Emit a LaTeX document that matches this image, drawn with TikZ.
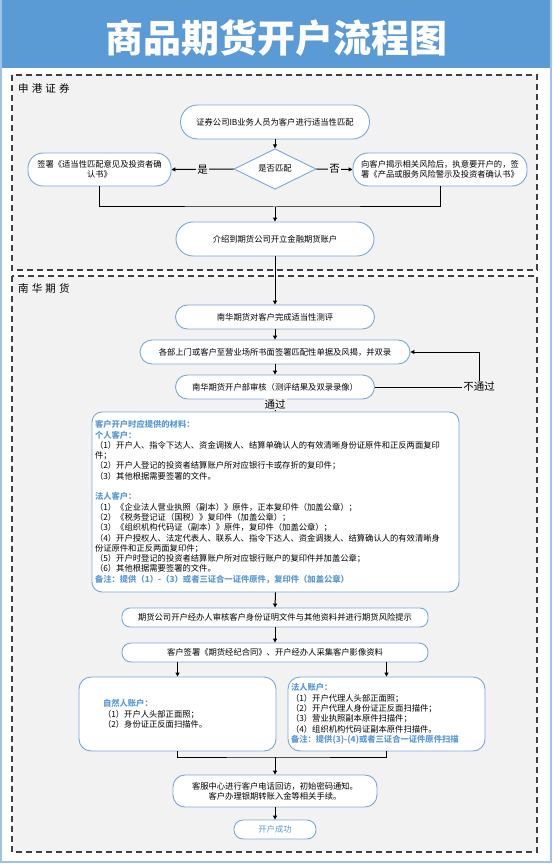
\documentclass[tikz,border=0pt]{standalone}
\usepackage{fontspec}
\setmainfont{Noto Sans CJK SC}
\usetikzlibrary{arrows.meta,shapes.geometric}
\definecolor{titleblue}{HTML}{5B9BD5}
\definecolor{frameblue}{HTML}{9DC3E6}
\definecolor{boxblue}{HTML}{7AA7DA}
\definecolor{secbg}{HTML}{F2F2F2}
\definecolor{dashgray}{HTML}{404040}
\definecolor{headblue}{HTML}{5B9BD5}
\begin{document}
\begin{tikzpicture}[x=1pt,y=-1pt,
  sec/.style={draw=dashgray, fill=secbg, line width=1.2pt, dash pattern=on 6pt off 4pt},
  pill/.style={draw=boxblue, fill=white, line width=0.9pt, rounded corners=#1,
    font=\fontsize{8.3}{10.3}\selectfont, align=center, inner sep=0pt},
  pill/.default=8pt,
  arr/.style={-{Triangle[length=4pt,width=4pt]}, line width=1pt, black},
  ln/.style={line width=1pt, black},
  lab/.style={font=\fontsize{10.5}{12}\selectfont, fill=secbg, inner sep=1pt},
  seclab/.style={font=\fontsize{10.5}{12}\selectfont\addfontfeatures{LetterSpace=30}, anchor=west, inner sep=0pt},
]
\useasboundingbox (0,0) rectangle (553,866);
\fill[white] (0,0) rectangle (553,866);
% title band and frame
\fill[titleblue] (2,0) rectangle (550,68);
\draw[frameblue, line width=2pt] (1,0) -- (1,862) -- (551,862) -- (551,0);
\node[text=white, inner sep=0pt, font=\fontsize{38}{40}\selectfont\bfseries] (title) at (276,38) {商品期货开户流程图};
% sections
\draw[sec] (12,75) rectangle (537,270);
\draw[sec] (12,276) rectangle (537,852);
\node[seclab] (s1) at (18,88) {申港证券};
\node[seclab] (s2) at (18,289) {南华期货};
% section 1 nodes
\node[pill=17pt, minimum width=189pt, minimum height=34pt] (b1) at (275,122) {证券公司IB业务人员为客户进行适当性匹配};
\node[diamond, draw=boxblue, fill=white, line width=0.9pt, minimum width=82pt, minimum height=34pt, inner sep=0pt, font=\fontsize{8.3}{10.3}\selectfont] (dia) at (275,169) {是否匹配};
\node[pill=15pt, minimum width=143pt, minimum height=33pt] (bL) at (99.5,169.5) {签署《适当性匹配意见及投资者确\\认书》};
\node[pill=15pt, minimum width=174pt, minimum height=33pt] (bR) at (440,169.5) {向客户揭示相关风险后，执意要开户的，签\\署《产品或服务风险警示及投资者确认书》};
\node[pill=17pt, minimum width=198pt, minimum height=34pt] (b4) at (275,239) {介绍到期货公司开立金融期货账户};
% section 2 nodes
\node[pill=12pt, minimum width=199pt, minimum height=24pt] (b5) at (275,317) {南华期货对客户完成适当性测评};
\node[pill=12pt, minimum width=270pt, minimum height=24pt] (b6) at (275,352) {各部上门或客户至营业场所书面签署匹配性单据及风揭，并双录};
\node[pill=12pt, minimum width=199pt, minimum height=24pt] (b7) at (275,387) {南华期货开户部审核（测评结果及双录录像）};
\node[pill=10pt, minimum width=367pt, minimum height=180pt, text width=361pt, inner xsep=3pt, align=left] (big) at (275.5,502) {%
{\color{headblue}\bfseries 客户开户时应提供的材料：}\\
{\color{headblue}\bfseries 个人客户：}\\
（1）开户人、指令下达人、资金调拨人、结算单确认人的有效清晰身份证原件和正反两面复印\\
件；\\
（2）开户人登记的投资者结算账户所对应银行卡或存折的复印件；\\
（3）其他根据需要签署的文件。\\[10.3pt]
{\color{headblue}\bfseries 法人客户：}\\
（1）《企业法人营业执照（副本）》原件，正本复印件（加盖公章）；\\
（2）《税务登记证（国税）》复印件（加盖公章）；\\
（3）《组织机构代码证（副本）》原件，复印件（加盖公章）；\\
（4）开户授权人、法定代表人、联系人、指令下达人、资金调拨人、结算确认人的有效清晰身\\
份证原件和正反两面复印件；\\
（5）开户时登记的投资者结算账户所对应银行账户的复印件并加盖公章；\\
（6）其他根据需要签署的文件。\\
{\color{headblue}\bfseries 备注：提供（1）-（3）或者三证合一证件原件，复印件（加盖公章）}};
\node[pill=8pt, minimum width=306pt, minimum height=19pt] (b8) at (275,617.5) {期货公司开户经办人审核客户身份证明文件与其他资料并进行期货风险提示};
\node[pill=9pt, minimum width=306pt, minimum height=19pt] (b9) at (275,652.5) {客户签署《期货经纪合同》、开户经办人采集客户影像资料};
\node[pill=12pt, minimum width=197pt, minimum height=74pt, text width=149pt, inner xsep=24pt, align=left] (lL) at (177.5,714) {%
{\color{headblue}\bfseries 自然人账户：}\\
（1）开户人头部正面照；\\
（2）身份证正反面扫描件。};
\node[pill=12pt, minimum width=197pt, minimum height=74pt, text width=191pt, inner xsep=3pt, align=left] (lR) at (386.5,714) {%
{\color{headblue}\bfseries 法人账户：}\\
（1）开户代理人头部正面照；\\
（2）开户代理人身份证正反面扫描件；\\
（3）营业执照副本原件扫描件；\\
（4）组织机构代码证副本原件扫描件。\\
{\color{headblue}\bfseries 备注：提供(3)-(4)或者三证合一证件原件扫描}};
\node[pill=12pt, minimum width=204pt, minimum height=32pt] (b10) at (275,791) {客服中心进行客户电话回访，初始密码通知。\\客户办理银期转账入金等相关手续。};
\node[pill=9pt, minimum width=82pt, minimum height=19pt, text=headblue] (b11) at (275,829.5) {开户成功};
% connectors
\coordinate (m1) at (275,207);
\coordinate (fb) at (479,387);
\coordinate (m2) at (275,757);
\draw[arr] (b1.south) -- (dia.north);
\draw[arr] (dia.west) -- (bL.east) node[midway, lab] {是};
\draw[arr] (dia.east) -- (bR.west) node[midway, lab] {否};
\draw[ln] (bL.south) |- (m1) -| (bR.south);
\draw[arr] (m1) -- (b4.north);
\draw[arr] (b4.south) -- (b5.north);
\draw[arr] (b5.south) -- (b6.north);
\draw[arr] (b6.south) -- (b7.north);
\draw[arr] (b7.east) -- (fb) |- (b6.east);
\node[lab] (nopass) at (fb) {不通过};
\draw[arr] (b7.south) -- (big.north) node[pos=0.38, lab] {通过};
\draw[arr] (big.south) -- (b8.north);
\draw[arr] (b8.south) -- (b9.north);
\draw[arr] (b9.south -| lL.north) -- (lL.north);
\draw[arr] (b9.south -| lR.north) -- (lR.north);
\draw[ln] (lL.south) |- (m2) -| (lR.south);
\draw[arr] (m2) -- (b10.north);
\draw[arr] (b10.south) -- (b11.north);
\end{tikzpicture}
\end{document}
